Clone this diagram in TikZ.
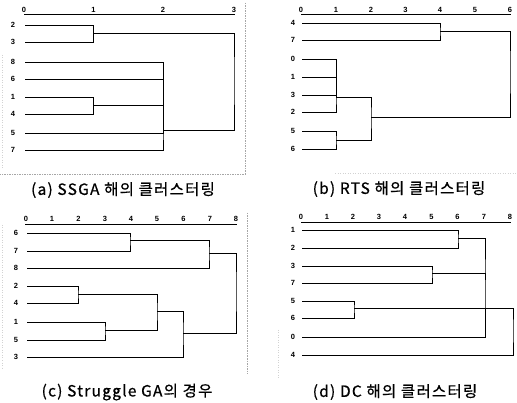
\documentclass[tikz,border=0pt]{standalone}
\usepackage{fontspec}
\newfontfamily\kr[LetterSpace=8,FakeBold=0.6]{Noto Sans CJK KR}
\newfontfamily\numf{Liberation Sans}
\tikzset{
  lbl/.style={inner sep=0pt, font=\numf\bfseries\fontsize{7.5}{8}\selectfont},
  tickl/.style={inner sep=0pt, font=\numf\bfseries\fontsize{7.5}{8}\selectfont},
  captxt/.style={inner sep=0pt, font=\kr\fontsize{15.5}{17}\selectfont},
  tree/.style={line width=0.9pt, black},
  axisline/.style={line width=1pt, black},
  frame/.style={gray!70, line width=0.6pt, dash pattern=on 1.5pt off 1pt},
  faint/.style={gray!35, line width=0.5pt, dash pattern=on 1pt off 1.5pt}
}
\begin{document}
\begin{tikzpicture}[x=1pt,y=-1pt]
\useasboundingbox[fill=white] (0,0) rectangle (517,403);

% ---------------- panel (a) ----------------
\foreach \i/\x in {0/24,1/93.5,2/163,3/234} {\node[tickl] (ta\i) at (\x,10) {\i};}
\coordinate (axa0) at (24,15); \coordinate (axa1) at (235,15);
\draw[axisline] (axa0) -- (axa1);
\foreach \n/\y in {2/25,3/42,8/62,6/79,1/97,4/114,5/133,7/150} {
  \node[lbl] (la\n) at (13,\y) {\n};
  \coordinate (a\n) at (25,\y);
}
\coordinate (ma23) at (93.5,33.5);
\coordinate (ma14) at (93.5,105.5);
\coordinate (mabig) at (163,130);
\coordinate (maroot) at (234,80);
\draw[tree] (a2) -| (ma23) |- (a3);
\draw[tree] (a1) -| (ma14) |- (a4);
\draw[tree] (a8) -| (mabig) |- (a7);
\draw[tree] (a6) -| (mabig);
\draw[tree] (a5) -| (mabig);
\draw[tree] (ma14) -| (mabig);
\draw[tree] (ma23) -| (maroot) |- (mabig);
\coordinate (fa0) at (245,3); \coordinate (fa1) at (245,174); \coordinate (fa2) at (0,174);
\draw[frame] (fa0) -- (fa1) -- (fa2);
\coordinate (fa3) at (2,55); \coordinate (fa4) at (2,170);
\draw[faint] (fa3) -- (fa4);
\node[captxt] (capa) at (123,190) {(a) SSGA 해의 클러스터링};

% ---------------- panel (b) ----------------
\foreach \i/\x in {0/301,1/336,2/371,3/405.5,4/440,5/475,6/510} {\node[tickl] (tb\i) at (\x,10) {\i};}
\coordinate (axb0) at (301,15); \coordinate (axb1) at (511,15);
\draw[axisline] (axb0) -- (axb1);
\foreach \n/\y in {4/23,7/40,0/59,1/77,3/95,2/112,5/131,6/149} {
  \node[lbl] (lb\n) at (293,\y) {\n};
  \coordinate (b\n) at (302,\y);
}
\coordinate (mb47) at (440,31.5);
\coordinate (mb0132) at (336,97);
\coordinate (mb56) at (336,140);
\coordinate (mbmid) at (371,117);
\coordinate (mbroot) at (510,70);
\draw[tree] (b4) -| (mb47) |- (b7);
\draw[tree] (b0) -| (mb0132) |- (b2);
\draw[tree] (b1) -| (mb0132);
\draw[tree] (b3) -| (mb0132);
\draw[tree] (b5) -| (mb56) |- (b6);
\draw[tree] (mb0132) -| (mbmid) |- (mb56);
\draw[tree] (mb47) -| (mbroot) |- (mbmid);
\coordinate (fb0) at (335,173); \coordinate (fb1) at (517,173);
\draw[faint] (fb0) -- (fb1);
\node[captxt] (capb) at (399,189) {(b) RTS 해의 클러스터링};

% ---------------- panel (c) ----------------
\foreach \i/\x in {0/26,1/52,2/78.5,3/105,4/131,5/157,6/183.5,7/210,8/236} {\node[tickl] (tc\i) at (\x,219) {\i};}
\coordinate (axc0) at (25,225); \coordinate (axc1) at (237,225);
\draw[axisline] (axc0) -- (axc1);
\foreach \n/\y in {6/233,7/251,8/268,2/286,4/303,1/322,5/340,3/357} {
  \node[lbl] (lc\n) at (16,\y) {\n};
  \coordinate (c\n) at (27,\y);
}
\coordinate (mc67) at (130,240);
\coordinate (mc678) at (209,253);
\coordinate (mc24) at (78,294);
\coordinate (mc15) at (105,330);
\coordinate (mc2415) at (157,311);
\coordinate (mc3) at (183,333);
\coordinate (mcroot) at (236,290);
\draw[tree] (c6) -| (mc67) |- (c7);
\draw[tree] (mc67) -| (mc678) |- (c8);
\draw[tree] (c2) -| (mc24) |- (c4);
\draw[tree] (c1) -| (mc15) |- (c5);
\draw[tree] (mc24) -| (mc2415) |- (mc15);
\draw[tree] (mc2415) -| (mc3) |- (c3);
\draw[tree] (mc678) -| (mcroot) |- (mc3);
\coordinate (fc0) at (247,213); \coordinate (fc1) at (247,374);
\draw[frame] (fc0) -- (fc1);
\coordinate (fc2) at (2,225); \coordinate (fc3) at (2,370);
\draw[faint] (fc2) -- (fc3);
\node[captxt] (capc) at (127,392) {(c) Struggle GA의 경우};

% ---------------- panel (d) ----------------
\foreach \i/\x in {0/301,1/327,2/353,3/379,4/405,5/431.5,6/457.5,7/484,8/510} {\node[tickl] (td\i) at (\x,217) {\i};}
\coordinate (axd0) at (301,223); \coordinate (axd1) at (511,223);
\draw[axisline] (axd0) -- (axd1);
\foreach \n/\y in {1/230,2/248,3/266,7/283,5/301,6/318,0/337,4/355} {
  \node[lbl] (ld\n) at (293,\y) {\n};
  \coordinate (d\n) at (302,\y);
}
\coordinate (md12) at (458,238);
\coordinate (md37) at (432,273);
\coordinate (md7) at (485,280);
\coordinate (md56) at (354,308);
\coordinate (md8) at (513,330);
\draw[tree] (d1) -| (md12) |- (d2);
\draw[tree] (d3) -| (md37) |- (d7);
\draw[tree] (md12) -| (md7) |- (d0);
\draw[tree] (md37) -| (md7);
\draw[tree] (d5) -| (md56) |- (d6);
\draw[tree] (md56) -| (md8) |- (d4);
\coordinate (fd0) at (278,330); \coordinate (fd1) at (278,380);
\draw[faint] (fd0) -- (fd1);
\node[captxt] (capd) at (395,392) {(d) DC 해의 클러스터링};
\end{tikzpicture}
\end{document}
